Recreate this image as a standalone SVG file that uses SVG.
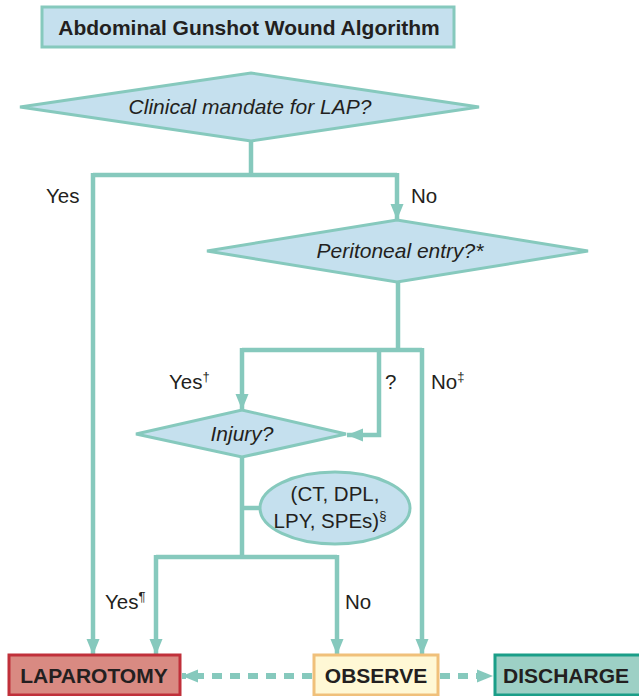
<svg xmlns="http://www.w3.org/2000/svg" width="639" height="696" viewBox="0 0 639 696">
<style>
.shape{fill:#c5e0ee;stroke:#86c9bd;stroke-width:3}
.ln{fill:none;stroke:#86c9bd;stroke-width:4.5}
.dash{fill:none;stroke:#86c9bd;stroke-width:6;stroke-dasharray:10 8}
.t{font-family:"Liberation Sans",Arial,sans-serif;fill:#231f20}
.q{font-style:italic;font-size:21px}
.lbl{font-size:20.5px}
.b{font-weight:bold;font-size:21px}
</style>
<defs>
<marker id="ah" markerUnits="userSpaceOnUse" markerWidth="16" markerHeight="16" viewBox="0 0 16 16" refX="16" refY="8" orient="auto">
<path d="M0,1.5 L16,8 L0,14.5 Z" fill="#86c9bd"/>
</marker>
</defs>
<rect width="639" height="696" fill="#fff"/>
<g id="connectors">
<path class="ln" d="M251,141 V175"/>
<path class="ln" d="M93,175 H397"/>
<path class="ln" d="M93,173 V655" marker-end="url(#ah)"/>
<path class="ln" d="M397,173 V220" marker-end="url(#ah)"/>
<path class="ln" d="M398,282 V350"/>
<path class="ln" d="M242,350 H422"/>
<path class="ln" d="M242,348 V410" marker-end="url(#ah)"/>
<path class="ln" d="M379,348 V435 H347" marker-end="url(#ah)"/>
<path class="ln" d="M422,348 V655" marker-end="url(#ah)"/>
<path class="ln" d="M242,457 V557"/>
<path class="ln" d="M242,508 H260"/>
<path class="ln" d="M156,557 H337"/>
<path class="ln" d="M156,555 V655" marker-end="url(#ah)"/>
<path class="ln" d="M337,555 V655" marker-end="url(#ah)"/>
<path class="dash" d="M312,676 H182" marker-end="url(#ah)"/>
<path class="dash" d="M440,676 H493" marker-end="url(#ah)"/>
<text class="t lbl" x="46" y="203">Yes</text>
<text class="t lbl" x="411" y="203">No</text>
<text class="t lbl" x="169" y="389">Yes<tspan font-size="13" dy="-8">†</tspan></text>
<text class="t lbl" x="385" y="389">?</text>
<text class="t lbl" x="431" y="389">No<tspan font-size="13" dy="-8">‡</tspan></text>
<text class="t lbl" x="105" y="609">Yes<tspan font-size="13" dy="-8">¶</tspan></text>
<text class="t lbl" x="345" y="609">No</text>
</g>
<g id="title">
<rect class="shape" x="42" y="7" width="412" height="40"/>
<text class="t b" x="249" y="35" text-anchor="middle">Abdominal Gunshot Wound Algorithm</text>
</g>
<g id="d-clinical">
<polygon class="shape" points="20,107 251,73 479,107 251,141"/>
<text class="t q" x="250" y="114" text-anchor="middle">Clinical mandate for LAP?</text>
</g>
<g id="d-peritoneal">
<polygon class="shape" points="207,251 397,220 588,251 397,282"/>
<text class="t q" x="400" y="258" text-anchor="middle">Peritoneal entry?*</text>
</g>
<g id="d-injury">
<polygon class="shape" points="136,434 242,410 346,434 242,457"/>
<text class="t q" x="242" y="441" text-anchor="middle">Injury?</text>
</g>
<g id="tests">
<ellipse class="shape" cx="335" cy="508" rx="75" ry="36"/>
<text class="t lbl" x="335" y="501" text-anchor="middle">(CT, DPL,</text>
<text class="t lbl" x="330" y="528" text-anchor="middle">LPY, SPEs)<tspan font-size="13" dy="-8">§</tspan></text>
</g>
<g id="laparotomy">
<rect x="9" y="655" width="171" height="40" fill="#d98a82" stroke="#c0303a" stroke-width="3"/>
<text class="t b" x="94" y="683" text-anchor="middle">LAPAROTOMY</text>
</g>
<g id="observe">
<rect x="314" y="655" width="124" height="40" fill="#fff8d5" stroke="#f0c07a" stroke-width="3"/>
<text class="t b" x="376" y="683" text-anchor="middle">OBSERVE</text>
</g>
<g id="discharge">
<rect x="495" y="655" width="146" height="40" fill="#9dd0c5" stroke="#1a9e88" stroke-width="3"/>
<text class="t b" x="566" y="683" text-anchor="middle">DISCHARGE</text>
</g>
</svg>
